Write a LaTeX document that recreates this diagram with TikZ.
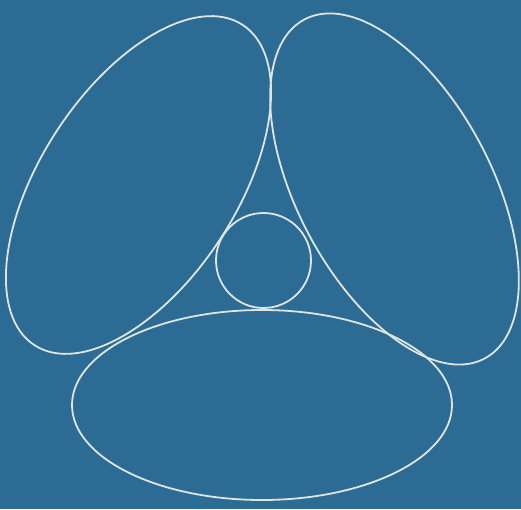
\documentclass[tikz,border=0pt]{standalone}
\definecolor{bgblue}{RGB}{44,108,148}
\definecolor{chalk}{RGB}{222,228,222}
\begin{document}
\begin{tikzpicture}[x=1pt,y=1pt,
  outline/.style={draw=chalk,line width=1.8pt}]
\fill[bgblue] (0,0) rectangle (521,509);
\useasboundingbox (0,0) rectangle (521,509);
% left ellipse
\draw[outline] (138.5,324) ellipse [x radius=191, y radius=98, rotate=57];
% right ellipse
\draw[outline] (394.5,320) ellipse [x radius=192, y radius=97, rotate=118];
% bottom ellipse
\draw[outline] (262,104) ellipse [x radius=190, y radius=95];
% central circle
\draw[outline] (263.5,248.5) circle [radius=47.5];
\end{tikzpicture}
\end{document}
